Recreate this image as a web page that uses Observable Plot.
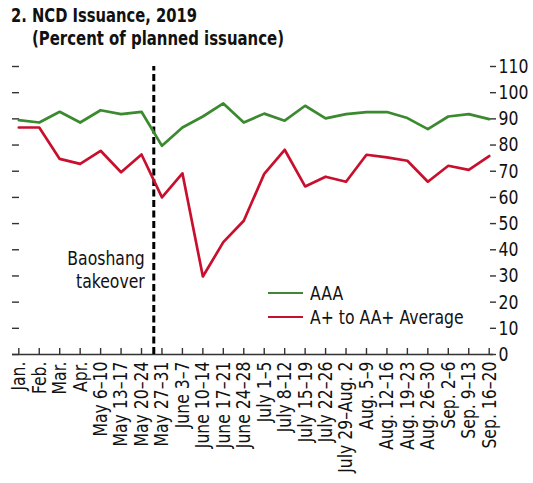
<!DOCTYPE html>
<html><head><meta charset="utf-8">
<script src="https://cdn.jsdelivr.net/npm/d3@7"></script>
<script src="https://cdn.jsdelivr.net/npm/@observablehq/plot@0.6"></script>
<style>
body{margin:0;background:#fff;}
#wrap{position:relative;width:533px;height:483px;font-family:"Liberation Sans Narrow","Arial Narrow","DejaVu Sans Condensed",sans-serif;color:#111;}
#title{position:absolute;left:11px;top:4px;font-weight:bold;font-size:20px;line-height:23px;white-space:nowrap;}
#title div{display:block;width:max-content;transform-origin:0 50%;}
#title .l2{margin-left:21px;}
#legend{position:absolute;left:268px;top:281px;font-size:20px;line-height:24px;}
#legend .it{display:flex;align-items:center;height:24px;white-space:nowrap;}
#legend .sw{width:35px;height:0;border-top:2.7px solid;margin-right:7px;flex:none;}
#legend span{display:inline-block;transform-origin:0 50%;}
#chart{position:absolute;left:0;top:0;}
</style></head>
<body>
<div id="wrap">
<div id="chart"></div>
<div id="title"><div class="l1">2. NCD Issuance, 2019</div><div class="l2">(Percent of planned issuance)</div></div>
<div id="legend"></div>
</div>
<script>
const categories = ["Jan.","Feb.","Mar.","Apr.","May 6–10","May 13–17","May 20–24","May 27–31","June 3–7","June 10–14","June 17–21","June 24–28","July 1–5","July 8–12","July 15–19","July 22–26","July 29–Aug. 2","Aug. 5–9","Aug. 12–16","Aug. 19–23","Aug. 26–30","Sep. 2–6","Sep. 9–13","Sep. 16–20"];
const aaa = [89.5,88.6,92.7,88.6,93.3,91.8,92.7,79.7,86.7,90.9,95.9,88.6,92.0,89.3,95.0,90.2,91.8,92.6,92.6,90.3,86.1,90.9,91.8,89.9];
const aPlusToAAPlus = [86.7,86.7,74.7,72.8,77.8,69.6,76.4,60.0,69.2,29.8,42.9,51.1,69.0,78.2,64.2,67.9,66.0,76.3,75.3,74.0,66.0,72.1,70.5,75.8];
const seriesNames = ["AAA","A+ to AA+ Average"];
const seriesColors = ["#3b8a2f","#c8102e"];
const yTicks = [0,10,20,30,40,50,60,70,80,90,100,110];
const eventPosition = 6.6;
const eventLabel = "Baoshang\ntakeover";
const eventLabelY = 32.5;

const idx = categories.map((_, i) => i);
const rows = [];
idx.forEach(i => {
  rows.push({x: i, y: aaa[i], s: seriesNames[0]});
  rows.push({x: i, y: aPlusToAAPlus[i], s: seriesNames[1]});
});
const axisColor = "#333";
const font = '"Liberation Sans Narrow","Arial Narrow","DejaVu Sans Condensed",sans-serif';
const condense = 0.87;

const chart = Plot.plot({
  width: 533, height: 483,
  marginTop: 66, marginBottom: 129, marginLeft: 12, marginRight: 40,
  style: {fontFamily: font, fontSize: "20px", color: "#111", background: "white"},
  x: {type: "linear", domain: [0, categories.length - 1], insetLeft: 6.3, insetRight: 4.3},
  y: {domain: [0, 110]},
  color: {domain: seriesNames, range: seriesColors},
  marks: [
    Plot.axisY({anchor: "left", ticks: yTicks, tickSize: 7, dx: 7, tickFormat: () => "", stroke: axisColor, strokeWidth: 1.4, label: null}),
    Plot.axisY({anchor: "right", ticks: yTicks, tickSize: 6, dx: -4, tickPadding: 3, tickFormat: d => String(d), stroke: axisColor, strokeWidth: 1.4, fill: "#111", label: null}),
    Plot.axisX({ticks: idx, tickSize: 6, dy: -6, tickFormat: () => "", stroke: axisColor, strokeWidth: 1.4, label: null}),
    Plot.axisX({ticks: idx, tickSize: 0, tickRotate: -90, tickPadding: 7, tickFormat: i => categories[i], fill: "#111", label: null}),
    Plot.ruleY([0], {stroke: axisColor, strokeWidth: 1.6}),
    Plot.ruleX([eventPosition], {y1: 0, y2: 110, stroke: "#000", strokeWidth: 3, strokeDasharray: "7,3.5"}),
    Plot.text([eventLabel], {x: () => eventPosition, y: () => eventLabelY, dx: -9, text: d => d, textAnchor: "end", lineAnchor: "middle", lineHeight: 1.15, fontSize: 20, fill: "#111"}),
    Plot.line(rows, {x: "x", y: "y", z: "s", stroke: "s", strokeWidth: 2.7})
  ]
});
document.getElementById("chart").appendChild(chart);

// emulate a narrow typeface by condensing glyphs along the text direction
chart.querySelectorAll("text").forEach(t => {
  const parts = t.querySelectorAll("tspan");
  const targets = parts.length ? Array.from(parts) : [t];
  targets.forEach(el => {
    const len = el.getComputedTextLength();
    if (len > 0) {
      el.setAttribute("textLength", (len * condense).toFixed(2));
      el.setAttribute("lengthAdjust", "spacingAndGlyphs");
    }
  });
});

const leg = document.getElementById("legend");
seriesNames.forEach((n, i) => {
  const it = document.createElement("div");
  it.className = "it";
  const sw = document.createElement("div");
  sw.className = "sw";
  sw.style.borderTopColor = seriesColors[i];
  const t = document.createElement("span");
  t.textContent = n;
  t.style.transform = `scaleX(${condense})`;
  it.appendChild(sw); it.appendChild(t);
  leg.appendChild(it);
});

const fitTitle = (sel, target) => {
  const el = document.querySelector(sel);
  const w = el.getBoundingClientRect().width;
  if (w > 0) el.style.transform = `scaleX(${target / w})`;
};
fitTitle("#title .l1", 186);
fitTitle("#title .l2", 252);
</script>
</body></html>
